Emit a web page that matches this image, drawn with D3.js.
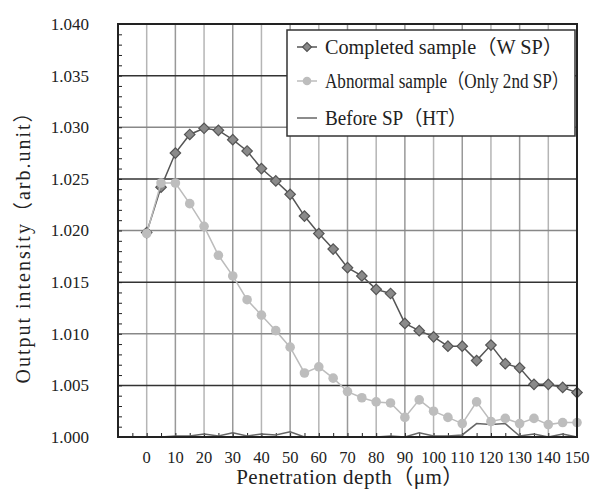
<!DOCTYPE html>
<html>
<head>
<meta charset="utf-8">
<script src="https://cdn.jsdelivr.net/npm/d3@7"></script>
<style>
  body { margin: 0; background: #fff; }
  text { font-family: "Liberation Serif", "Times New Roman", "DejaVu Serif", "Noto Sans CJK KR", serif; fill: #222; }
</style>
</head>
<body>
<div class="chart"></div>
<script>
// depth in um (every 5)
const depths = d3.range(0, 151, 5);
const xTickLabels = d3.range(0, 151, 10);
const yTickLabels = [1.000, 1.005, 1.010, 1.015, 1.020, 1.025, 1.030, 1.035, 1.040];

// Completed sample (W SP)
const completedValues = [1.0198, 1.0242, 1.0275, 1.0293, 1.0299, 1.0297, 1.0288, 1.0277, 1.0260, 1.0248, 1.0235,
    1.0214, 1.0197, 1.0182, 1.0164, 1.0156, 1.0143, 1.0139, 1.0110, 1.0103, 1.0097, 1.0088, 1.0088, 1.0074,
    1.0089, 1.0071, 1.0067, 1.0051, 1.0051, 1.0048, 1.0043];
// Abnormal sample (Only 2nd SP)
const abnormalValues = [1.0197, 1.0246, 1.0246, 1.0226, 1.0204, 1.0176, 1.0156, 1.0133, 1.0118, 1.0103, 1.0087,
    1.0062, 1.0068, 1.0057, 1.0044, 1.0038, 1.0034, 1.0033, 1.0019, 1.0036, 1.0025, 1.0019, 1.0013, 1.0034,
    1.0015, 1.0018, 1.0013, 1.0018, 1.0012, 1.0014, 1.0014];
// Before SP (HT)
const beforeValues = [1.0000, 1.0000, 1.0001, 1.0001, 1.0003, 1.0001, 1.0004, 1.0001, 1.0003, 1.0002, 1.0005,
    1.0000, 1.0000, 1.0000, 1.0000, 1.0000, 1.0000, 1.0001, 1.0000, 1.0004, 1.0001, 1.0001, 1.0002, 1.0013,
    1.0012, 1.0013, 1.0001, 1.0003, 1.0000, 1.0003, 1.0000];

const legendLabels = ['Completed sample（W SP）', 'Abnormal sample（Only 2nd SP）', 'Before SP（HT）'];

const svg_width = 590;
const svg_height = 490;
const chart_margin = { top: 24, right: 13, bottom: 53, left: 118 };
const chart_width = svg_width - chart_margin.left - chart_margin.right;
const chart_height = svg_height - chart_margin.top - chart_margin.bottom;

const svg = d3.select('.chart').append('svg')
    .attr('width', svg_width).attr('height', svg_height);
const g = svg.append('g')
    .attr('transform', `translate(${chart_margin.left}, ${chart_margin.top})`);

// scales
const xScale = d3.scaleLinear().domain([-10, 150]).range([0, chart_width]);
const yScale = d3.scaleLinear().domain([1.000, 1.040]).range([chart_height, 0]);

// grid lines
g.selectAll('.vgrid')
    .data(xTickLabels)
    .enter()
    .append('line')
    .attr('x1', d => xScale(d)).attr('x2', d => xScale(d))
    .attr('y1', 0).attr('y2', chart_height)
    .attr('stroke', (d, i) => i % 2 ? '#999' : '#b5b5b5')
    .attr('stroke-width', 1.5);

g.selectAll('.hgrid')
    .data(yTickLabels.slice(1, -1))
    .enter()
    .append('line')
    .attr('x1', 0).attr('x2', chart_width)
    .attr('y1', d => yScale(d)).attr('y2', d => yScale(d))
    .attr('stroke', (d, i) => i % 2 ? '#888' : '#333')
    .attr('stroke-width', 1.5);

// axes (minor ticks inside)
const yAxis = d3.axisRight(yScale).tickValues(d3.range(1.000, 1.0401, 0.001)).tickSize(4).tickFormat('');
g.append('g').call(yAxis).call(a => a.select('.domain').remove())
    .selectAll('line').attr('stroke', '#222');
const xAxis = d3.axisTop(xScale).tickValues(d3.range(-5, 151, 5)).tickSize(4).tickFormat('');
g.append('g').attr('transform', `translate(0, ${chart_height})`).call(xAxis)
    .call(a => a.select('.domain').remove())
    .selectAll('line').attr('stroke', '#222');

g.selectAll('.ylabel')
    .data(yTickLabels)
    .enter()
    .append('text')
    .attr('x', -29).attr('y', d => yScale(d)).attr('dy', '0.35em')
    .attr('text-anchor', 'end').style('font-size', '17px')
    .text(d => d3.format('.3f')(d));

g.selectAll('.xlabel')
    .data(xTickLabels)
    .enter()
    .append('text')
    .attr('x', d => xScale(d)).attr('y', chart_height + 26)
    .attr('text-anchor', 'middle').style('font-size', '16.5px')
    .text(d => d);

// clip for lines near the bottom
svg.append('clipPath').attr('id', 'clip').append('rect')
    .attr('width', chart_width).attr('height', chart_height);

const line = d3.line().x((d, i) => xScale(depths[i])).y(d => yScale(d));

g.append('path').datum(beforeValues)
    .attr('clip-path', 'url(#clip)')
    .attr('d', line).attr('fill', 'none').attr('stroke', '#666').attr('stroke-width', 1.5);

g.append('path').datum(completedValues)
    .attr('d', line).attr('fill', 'none').attr('stroke', '#555').attr('stroke-width', 1.5);
g.selectAll('.diamond')
    .data(completedValues)
    .enter()
    .append('path')
    .attr('transform', (d, i) => `translate(${xScale(depths[i])}, ${yScale(d)}) rotate(45)`)
    .attr('d', d3.symbol(d3.symbolSquare, 55))
    .attr('fill', '#8a8a8a').attr('stroke', '#555').attr('stroke-width', 1.2);

g.append('path').datum(abnormalValues)
    .attr('d', line).attr('fill', 'none').attr('stroke', '#bcbcbc').attr('stroke-width', 1.5);
g.selectAll('.dot')
    .data(abnormalValues)
    .enter()
    .append('circle')
    .attr('cx', (d, i) => xScale(depths[i])).attr('cy', d => yScale(d))
    .attr('r', 4.8).attr('fill', '#bdbdbd');

// frame
g.append('rect').attr('width', chart_width).attr('height', chart_height)
    .attr('fill', 'none').attr('stroke', '#222').attr('stroke-width', 2);

// legend
const legend = svg.append('g').attr('transform', 'translate(287, 30)');
legend.append('rect').attr('width', 288).attr('height', 106)
    .attr('fill', '#fff').attr('stroke', '#333').attr('stroke-width', 1.5);
const rowY = [17, 51, 88];
const rowTextLength = [238, 244, 142];
legendLabels.forEach((label, i) => {
    const row = legend.append('g').attr('transform', `translate(0, ${rowY[i]})`);
    row.append('line').attr('x1', 10).attr('x2', 30)
        .attr('stroke', ['#555', '#bcbcbc', '#666'][i]).attr('stroke-width', 1.5);
    if (i === 0) {
        row.append('path').attr('transform', 'translate(20, 0) rotate(45)')
            .attr('d', d3.symbol(d3.symbolSquare, 40))
            .attr('fill', '#8a8a8a').attr('stroke', '#555').attr('stroke-width', 1.2);
    } else if (i === 1) {
        row.append('circle').attr('cx', 20).attr('r', 4.3).attr('fill', '#bdbdbd');
    }
    row.append('text').attr('x', 38).attr('dy', '0.35em')
        .attr('textLength', rowTextLength[i]).attr('lengthAdjust', 'spacingAndGlyphs')
        .style('font-size', '20px').text(label);
});

// axis titles
svg.append('text')
    .attr('x', 350).attr('y', 484)
    .attr('text-anchor', 'middle').style('font-size', '21px').style('letter-spacing', '0.5px')
    .text('Penetration depth（μm）');
svg.append('text')
    .attr('transform', 'translate(30, 242) rotate(-90)')
    .attr('text-anchor', 'middle').style('font-size', '20px').style('letter-spacing', '2px')
    .text('Output intensity（arb.unit）');
</script>
</body>
</html>
